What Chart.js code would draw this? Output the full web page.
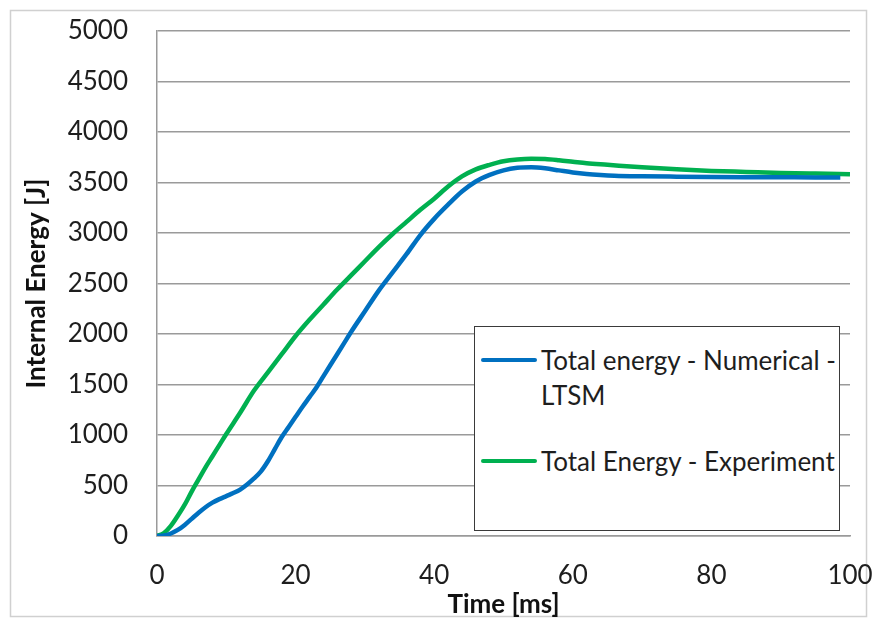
<!DOCTYPE html>
<html>
<head>
<meta charset="utf-8">
<script src="https://cdn.jsdelivr.net/npm/chart.js@4"></script>
<style>
    html, body { margin: 0; padding: 0; background: #fff; }
    .wrap { position: relative; width: 877px; height: 626px; }
    .legend-box {
        position: absolute; left: 474px; top: 326px; width: 364px; height: 203px;
        border: 1px solid #3a3a3a; background: #fff;
        font-family: Lato, sans-serif; font-size: 26px; color: #1e1e1e;
    }
    .legend-item { position: absolute; left: 0; white-space: nowrap; line-height: 35px; }
    .legend-item .swatch { position: absolute; left: 6px; width: 56px; height: 0; border-top: 4.5px solid; border-radius: 2px; }
    .legend-item .label { position: absolute; left: 66px; }
</style>
</head>
<body>
<div class="wrap">
    <canvas id="energyChart" width="877" height="626"></canvas>
    <div class="legend-box" id="legend"></div>
</div>
<script>
// Time [ms] and internal energy [J]
const numTime = [0, 1, 2, 3, 4, 5, 6, 7, 8, 9, 10, 11, 12, 13, 14, 15, 16, 17, 18, 19, 20, 21, 22, 23, 24, 25, 26, 27, 28, 30, 32, 34, 36, 38, 40, 42, 44, 46, 48, 50, 52, 54, 56, 58, 60, 62, 64, 66, 70, 75, 80, 85, 90, 95, 98.6];
const numEnergy = [0, 5, 25, 60, 110, 170, 230, 285, 330, 365, 395, 425, 460, 510, 570, 640, 740, 860, 980, 1080, 1180, 1280, 1375, 1470, 1580, 1690, 1800, 1910, 2020, 2225, 2430, 2610, 2790, 2980, 3140, 3280, 3410, 3510, 3575, 3620, 3645, 3650, 3640, 3620, 3600, 3585, 3575, 3568, 3562, 3558, 3555, 3553, 3552, 3550, 3550];

const expTime = [0, 1, 2, 3, 4, 5, 6, 7, 8, 9, 10, 12, 14, 16, 18, 20, 22, 24, 26, 28, 30, 32, 34, 36, 38, 40, 42, 44, 46, 48, 50, 52, 54, 56, 58, 60, 62, 65, 70, 75, 80, 85, 90, 95, 100];
const expEnergy = [0, 30, 100, 200, 310, 440, 560, 680, 790, 900, 1010, 1220, 1440, 1620, 1800, 1980, 2140, 2290, 2440, 2580, 2720, 2860, 2990, 3110, 3230, 3340, 3460, 3560, 3630, 3675, 3710, 3728, 3735, 3732, 3720, 3705, 3690, 3675, 3650, 3630, 3615, 3605, 3595, 3588, 3582];

const seriesLabels = [['Total energy - Numerical -', 'LTSM'], ['Total Energy - Experiment']];
const seriesColors = ['#0070c0', '#00b050'];

const xTitle = 'Time [ms]';
const yTitle = 'Internal Energy [J]';

function toPoints(xs, ys) {
    return xs.map((x, i) => ({ x: x, y: ys[i] }));
}

// white page + thin grey frame round the whole chart
const frame = {
    id: 'frame',
    beforeDraw(chart) {
        const c = chart.ctx;
        c.save();
        c.fillStyle = '#fff';
        c.fillRect(0, 0, chart.width, chart.height);
        c.strokeStyle = '#d0d0d0';
        c.lineWidth = 1.5;
        c.strokeRect(10.5, 10.5, 856, 606);
        c.restore();
    }
};

const tickFont = { family: 'Lato', size: 26 };
const titleFont = { family: 'Lato', size: 26, weight: 'bold' };

const ctx = document.getElementById('energyChart').getContext('2d');
const energyChart = new Chart(ctx, {
    type: 'line',
    data: {
        datasets: [{
            label: seriesLabels[0].join(' '),
            data: toPoints(numTime, numEnergy),
            borderColor: seriesColors[0],
            borderWidth: 4.5,
            pointRadius: 0,
            cubicInterpolationMode: 'monotone'
        }, {
            label: seriesLabels[1].join(' '),
            data: toPoints(expTime, expEnergy),
            borderColor: seriesColors[1],
            borderWidth: 4.5,
            pointRadius: 0,
            cubicInterpolationMode: 'monotone'
        }]
    },
    options: {
        responsive: false,
        animation: false,
        layout: { padding: { left: 10, top: 31, right: 27, bottom: 6 } },
        plugins: {
            legend: { display: false },
            tooltip: { enabled: false }
        },
        scales: {
            x: {
                type: 'linear',
                min: 0,
                max: 100,
                ticks: { stepSize: 20, font: tickFont, color: '#1e1e1e', padding: 24, maxRotation: 0 },
                grid: { display: false, drawTicks: false },
                border: { display: true, color: '#9a9a9a', width: 1.5 },
                title: { display: true, text: xTitle, font: titleFont, color: '#111', padding: { top: 0, bottom: 0 } },
                afterFit(scale) {
                    scale.height = 84;
                    scale.paddingLeft = 0;
                    scale.paddingRight = 0;
                }
            },
            y: {
                min: 0,
                max: 5000,
                ticks: { stepSize: 500, font: tickFont, color: '#1e1e1e', padding: 29, callback: v => String(v) },
                grid: { color: '#9a9a9a', lineWidth: 1.5, drawTicks: false },
                border: { display: true, color: '#9a9a9a', width: 1.5 },
                title: { display: true, text: yTitle, font: titleFont, color: '#111', padding: { top: 11, bottom: 0 } },
                afterFit(scale) {
                    scale.width = 147;
                    scale.paddingTop = 0;
                    scale.paddingBottom = 0;
                }
            }
        }
    },
    plugins: [frame]
});

// legend drawn as html so the first label can wrap like the original
const legendEl = document.getElementById('legend');
const itemTops = [16, 117];
legendEl.innerHTML = seriesLabels.map((lines, i) => `
    <div class="legend-item" style="top:${itemTops[i]}px">
        <div class="swatch" style="top:15px; border-color:${seriesColors[i]}"></div>
        <div class="label">${lines.join('<br>')}</div>
    </div>
`).join('');
</script>
</body>
</html>
